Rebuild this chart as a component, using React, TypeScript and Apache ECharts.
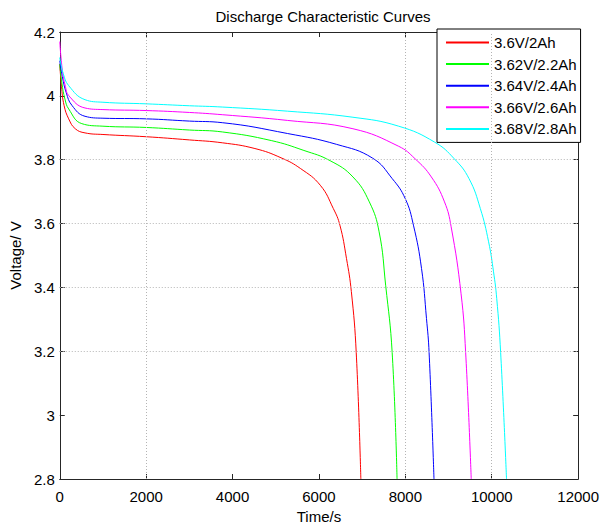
import React, { useEffect, useRef } from "react";
import * as echarts from "echarts";

const seriesNames = ["3.6V/2Ah", "3.62V/2.2Ah", "3.64V/2.4Ah", "3.66V/2.6Ah", "3.68V/2.8Ah"];
const seriesColors = ["#ff0000", "#00ff00", "#0000ff", "#ff00ff", "#00ffff"];

const red: number[][] = [
  [0, 4.10], [40, 4.03], [100, 3.97], [207, 3.928], [359, 3.897], [585, 3.884], [1000, 3.879],
  [2000, 3.872], [3000, 3.862], [3762, 3.853], [4518, 3.835], [5123, 3.806], [5577, 3.772],
  [6031, 3.72], [6333, 3.647], [6485, 3.595], [6637, 3.491], [6750, 3.387], [6863, 3.196], [6970, 2.8],
];
const green: number[][] = [
  [0, 4.10], [50, 4.04], [120, 3.99], [207, 3.959], [510, 3.913], [1000, 3.905], [2000, 3.901],
  [3000, 3.893], [3762, 3.887], [4896, 3.86], [5652, 3.829], [6258, 3.797], [6787, 3.746],
  [7166, 3.668], [7393, 3.574], [7544, 3.407], [7695, 3.196], [7808, 2.8],
];
const blue: number[][] = [
  [0, 4.11], [60, 4.06], [150, 4.01], [283, 3.97], [585, 3.936], [1000, 3.93], [2000, 3.928],
  [3000, 3.921], [3762, 3.916], [5275, 3.882], [6410, 3.848], [7241, 3.805], [7695, 3.741],
  [7998, 3.678], [8187, 3.595], [8375, 3.459], [8489, 3.303], [8550, 3.196], [8663, 2.8],
];
const magenta: number[][] = [
  [0, 4.17], [60, 4.08], [130, 4.03], [207, 4.001], [585, 3.962], [1000, 3.957], [2000, 3.954],
  [3000, 3.948], [3762, 3.941], [5275, 3.923], [6787, 3.897], [7846, 3.842], [8225, 3.803],
  [8602, 3.746], [8906, 3.668], [9060, 3.59], [9290, 3.38], [9396, 3.196], [9525, 2.8],
];
const cyan: number[][] = [
  [0, 4.12], [80, 4.07], [207, 4.032], [585, 3.988], [1000, 3.98], [2000, 3.975], [3000, 3.969],
  [3762, 3.965], [5275, 3.952], [6787, 3.933], [7846, 3.905], [8679, 3.855], [9132, 3.803],
  [9473, 3.741], [9736, 3.647], [9927, 3.543], [10041, 3.449], [10115, 3.366], [10206, 3.196],
  [10342, 2.8],
];
const allSeries = [red, green, blue, magenta, cyan];

const xTickLabels = ["0", "2000", "4000", "6000", "8000", "10000", "12000"];
const yTickLabels = ["2.8", "3", "3.2", "3.4", "3.6", "3.8", "4", "4.2"];
const visibleXGrid = [2000, 8000, 10000];
const visibleYGrid = [3.2, 3.4, 3.6, 3.8];

const FONT = "Liberation Sans, Arial, Helvetica, sans-serif";

export default function App() {
  const ref = useRef<HTMLDivElement>(null);
  useEffect(() => {
    if (!ref.current) return;
    const chart = echarts.init(ref.current, null, { renderer: "svg" });
    const axisColor = "#262626";
    const labelStyle = { color: "#000", fontSize: 15, fontFamily: FONT };
    const gridLine = { color: "#b4b4b4", type: [1, 2] as any, width: 1 };
    chart.setOption({
      animation: false,
      backgroundColor: "#fff",
      title: {
        text: "Discharge Characteristic Curves",
        left: 318,
        textAlign: "center",
        top: 4,
        textStyle: { fontSize: 15, fontWeight: "normal", color: "#000", fontFamily: FONT },
      },
      legend: {
        orient: "vertical",
        left: 437,
        top: 29,
        padding: [6, 4, 6, 9],
        itemGap: 6.6,
        itemWidth: 43,
        itemHeight: 2,
        icon: "rect",
        borderColor: "#000",
        borderWidth: 1,
        backgroundColor: "#fff",
        textStyle: { fontSize: 15, color: "#000", fontFamily: FONT },
        data: seriesNames,
      },
      grid: { left: 54, top: 32, width: 529, height: 451, containLabel: false },
      xAxis: [
        {
          type: "value",
          min: 0,
          max: 12000,
          interval: 2000,
          name: "Time/s",
          nameLocation: "middle",
          nameGap: 30,
          nameTextStyle: labelStyle,
          axisLine: { show: true, onZero: false, lineStyle: { color: axisColor } },
          axisTick: { show: true, inside: true, length: 5, lineStyle: { color: axisColor } },
          axisLabel: {
            ...labelStyle,
            margin: 10,
            formatter: (v: number) => xTickLabels[Math.round(v / 2000)] ?? "",
          },
          splitLine: { show: false },
        },
        {
          type: "value",
          position: "top",
          min: 0,
          max: 12000,
          interval: 2000,
          axisLine: { show: true, onZero: false, lineStyle: { color: axisColor } },
          axisTick: { show: true, inside: true, length: 5, lineStyle: { color: axisColor } },
          axisLabel: { show: false },
          splitLine: { show: false },
        },
      ],
      yAxis: [
        {
          type: "value",
          min: 2.8,
          max: 4.2,
          interval: 0.2,
          name: "Voltage/ V",
          nameLocation: "middle",
          nameGap: 33,
          nameTextStyle: labelStyle,
          axisLine: { show: true, onZero: false, lineStyle: { color: axisColor } },
          axisTick: { show: true, inside: true, length: 5, lineStyle: { color: axisColor } },
          axisLabel: {
            ...labelStyle,
            margin: 5,
            formatter: (v: number) => yTickLabels[Math.round((v - 2.8) / 0.2)] ?? "",
          },
          splitLine: { show: false },
        },
        {
          type: "value",
          position: "right",
          min: 2.8,
          max: 4.2,
          interval: 0.2,
          axisLine: { show: true, onZero: false, lineStyle: { color: axisColor } },
          axisTick: { show: true, inside: true, length: 5, lineStyle: { color: axisColor } },
          axisLabel: { show: false },
          splitLine: { show: false },
        },
      ],
      series: [
        {
          type: "line",
          name: "__grid",
          data: [],
          z: 1,
          silent: true,
          markLine: {
            silent: true,
            symbol: "none",
            label: { show: false },
            lineStyle: gridLine,
            emphasis: { disabled: true },
            data: [
              ...visibleXGrid.map((x) => ({ xAxis: x })),
              ...visibleYGrid.map((y) => ({ yAxis: y })),
            ],
          },
        },
        ...allSeries.map((d, i) => ({
          type: "line",
          name: seriesNames[i],
          data: d,
          z: 3,
          showSymbol: false,
          symbol: "none",
          smooth: 0.45,
          color: seriesColors[i],
          lineStyle: { color: seriesColors[i], width: 1 },
          emphasis: { disabled: true },
        })),
      ],
    });
    return () => chart.dispose();
  }, []);
  return (
    <div
      ref={ref}
      style={{ position: "fixed", left: 0, top: 0, width: 602, height: 529, background: "#fff" }}
    />
  );
}
